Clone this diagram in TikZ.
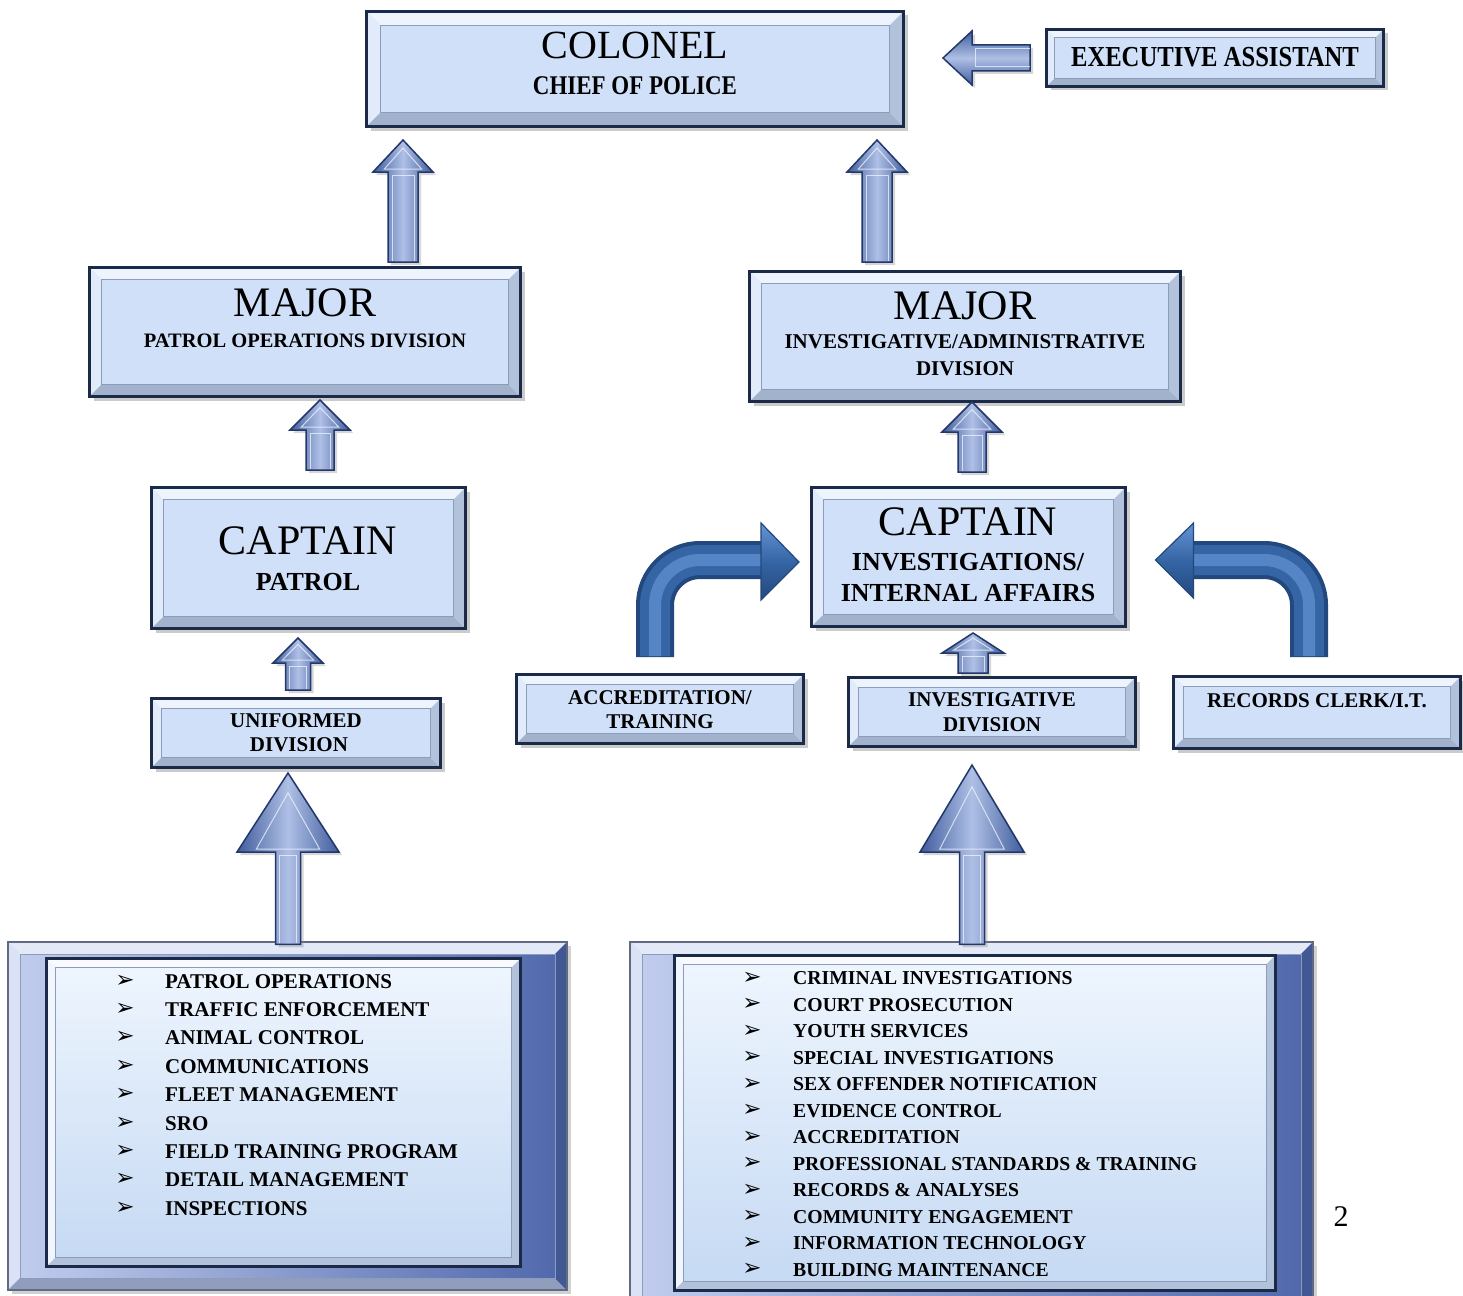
\documentclass[tikz,border=0pt]{standalone}
\usepackage{fontspec}
\setmainfont{Liberation Serif}
\newfontfamily\condserif[FakeStretch=0.85]{Liberation Serif}
\newfontfamily\dejavu{DejaVu Sans}
\usetikzlibrary{calc,shadows}
\definecolor{navy}{HTML}{1C2A4A}
\definecolor{boxfill}{HTML}{D0E0F8}
\definecolor{bevtop}{HTML}{EEF4FD}
\definecolor{bevleft}{HTML}{E2EBF9}
\definecolor{bevbot}{HTML}{A2B2CC}
\definecolor{bevright}{HTML}{B3C2DB}
\definecolor{bevline}{HTML}{8C9DBB}
\definecolor{arrdark}{HTML}{3F5C9C}
\definecolor{arrlight}{HTML}{AFC0E6}
\definecolor{arredge}{HTML}{22386A}
\definecolor{bandA}{HTML}{23487E}
\definecolor{bandB}{HTML}{3565A5}
\definecolor{bandC}{HTML}{6494D2}
\definecolor{frameL}{HTML}{C3CEEE}
\definecolor{frameR}{HTML}{4F67AB}
\definecolor{listtop}{HTML}{EFF6FE}
\definecolor{listbot}{HTML}{C5D9F3}
\newcommand\setfs[1]{\fontsize{#1}{#1}\selectfont}
\newcommand\bevelfaces[5]{%
  \coordinate (pA) at (path picture bounding box.north west);
  \coordinate (pB) at (path picture bounding box.north east);
  \coordinate (pC) at (path picture bounding box.south east);
  \coordinate (pD) at (path picture bounding box.south west);
  \fill[#2] (pA) -- (pB) -- ($(pB)+(-#1,#1)$) -- ($(pA)+(#1,#1)$) -- cycle;
  \fill[#3] (pA) -- ($(pA)+(#1,#1)$) -- ($(pD)+(#1,-#1)$) -- (pD) -- cycle;
  \fill[#4] (pD) -- (pC) -- ($(pC)+(-#1,-#1)$) -- ($(pD)+(#1,-#1)$) -- cycle;
  \fill[#5] (pB) -- (pC) -- ($(pC)+(-#1,-#1)$) -- ($(pB)+(-#1,#1)$) -- cycle;
  \draw[bevline, line width=0.8pt] ($(pA)+(#1,#1)$) rectangle ($(pC)+(-#1,-#1)$);
}
\newcommand\fatup[8]{%
  \coordinate (fuB) at ($(#1,0 |- #2.north)+(0,#4)$);
  \coordinate (fuT) at ($(#1,0 |- #3.south)+(0,#5)$);
  \path[fatarrow] ($(fuB)+(-#7,0)$) -- ($(fuT)+(-#7,#8)$) -- ($(fuT)+(-#6,#8)$) -- (fuT)
     -- ($(fuT)+(#6,#8)$) -- ($(fuT)+(#7,#8)$) -- ($(fuB)+(#7,0)$) -- cycle;
  \draw[fathl] ($(fuB)+({-#7+4},-1)$) -- ($(fuT)+({-#7+4},{#8+3})$)
     -- ($(fuT)+({#7-4},{#8+3})$) -- ($(fuB)+({#7-4},-1)$);
  \draw[fathl] ($(fuT)+(0,{#8*0.25})$) -- ($(fuT)+({-#6*0.62},{#8-3})$)
     -- ($(fuT)+({#6*0.62},{#8-3})$) -- cycle;
}
\tikzset{
  bbox/.style={rectangle, draw=navy, line width=3pt, fill=boxfill, inner sep=0pt,
    drop shadow={shadow xshift=4pt, shadow yshift=-4pt, fill=black!45, opacity=0.45},
    path picture={\bevelfaces{#1}{bevtop}{bevleft}{bevbot}{bevright}}},
  framebox/.style={rectangle, draw=navy!70, line width=1.5pt, left color=frameL, right color=frameR,
    inner sep=0pt,
    drop shadow={shadow xshift=4pt, shadow yshift=-4pt, fill=black!45, opacity=0.4},
    path picture={\bevelfaces{12}{white!55!frameL}{white!40!frameL}{frameL!70!navy}{frameR!75!navy}}},
  listbox/.style={rectangle, draw=navy, line width=3pt, top color=listtop, bottom color=listbot,
    inner sep=0pt,
    path picture={\bevelfaces{9}{white!85!boxfill}{white!70!boxfill}{bevright}{bevright}}},
  fatarrow/.style={draw=arredge, line width=1.5pt, left color=arrdark, right color=arrdark,
    middle color=arrlight,
    drop shadow={shadow xshift=3pt, shadow yshift=-3pt, fill=black!45, opacity=0.35}},
  fathl/.style={draw=white!75!arrlight, line width=1pt, opacity=0.8},
  hfatarrow/.style={draw=arredge, line width=1.5pt, top color=arrdark, bottom color=arrdark,
    middle color=arrlight,
    drop shadow={shadow xshift=3pt, shadow yshift=-3pt, fill=black!45, opacity=0.35}},
  bandone/.style={draw=bandA, line width=38pt, rounded corners=45pt},
  bandtwo/.style={draw=bandB, line width=30pt, rounded corners=45pt},
  bandthree/.style={draw=bandC, line width=12pt, rounded corners=45pt, opacity=0.7},
  bandhead/.style={draw=bandA, line width=1.2pt, top color=bandC, bottom color=bandA,
    middle color=bandB},
  txt/.style={inner sep=0pt, text=black},
  big/.style={txt, font=\setfs{42}},
  sub/.style={txt, font=\setfs{#1}\bfseries},
  bul/.style={inner sep=0pt, anchor=center, font=\dejavu\setfs{23}},
  item/.style={inner sep=0pt, anchor=base west, font=\setfs{#1}\bfseries},
}
\begin{document}
\begin{tikzpicture}[x=1pt, y=-1pt]
\useasboundingbox (0,0) rectangle (1463,1295);
\clip (0,0) rectangle (1463,1295);
\fill[white] (0,0) rectangle (1463,1295);

% list frames
\node[framebox, minimum width=559, minimum height=348] (lframe) at (287.5,1116) {};
\node[listbox, minimum width=474, minimum height=308] (llist) at (283.5,1112.5) {};
\node[framebox, minimum width=683, minimum height=380] (rframe) at (971.5,1132) {};
\node[listbox, minimum width=601, minimum height=335] (rlist) at (975,1122.5) {};

% boxes
\node[bbox=14, minimum width=537, minimum height=115] (col) at (635,69) {};
\node[bbox=8, minimum width=337, minimum height=57] (exec) at (1215,58) {};
\node[bbox=12, minimum width=431, minimum height=129] (maj1) at (305,332) {};
\node[bbox=12, minimum width=431, minimum height=130] (maj2) at (965,336.5) {};
\node[bbox=12, minimum width=314, minimum height=141] (cap1) at (308.5,558) {};
\node[bbox=12, minimum width=314, minimum height=139] (cap2) at (968.5,557) {};
\node[bbox=10, minimum width=289, minimum height=69] (uni) at (296,733) {};
\node[bbox=10, minimum width=287, minimum height=69] (acc) at (660,709) {};
\node[bbox=10, minimum width=287, minimum height=69] (inv) at (992,712) {};
\node[bbox=10, minimum width=287, minimum height=72] (rec) at (1317,712.5) {};

% texts
\node[txt, font=\setfs{40}] (colT1) at (635,45) {COLONEL};
\node[txt, font=\condserif\setfs{27}\bfseries] (colT2) at (635,86) {CHIEF OF POLICE};
\node[txt, font=\condserif\setfs{29}\bfseries] (exT) at (1215,57) {EXECUTIVE ASSISTANT};
\node[big] (m1T1) at (305,303) {MAJOR};
\node[sub=20.5] (m1T2) at (305,341) {PATROL OPERATIONS DIVISION};
\node[big] (m2T1) at (965,306) {MAJOR};
\node[sub=21] (m2T2) at (965,342) {INVESTIGATIVE/ADMINISTRATIVE};
\node[sub=21] (m2T3) at (965,369) {DIVISION};
\node[big] (c1T1) at (308,541) {CAPTAIN};
\node[sub=26] (c1T2) at (308,582) {PATROL};
\node[big] (c2T1) at (968,522) {CAPTAIN};
\node[sub=26] (c2T2) at (968,562) {INVESTIGATIONS/};
\node[sub=26] (c2T3) at (968,593) {INTERNAL AFFAIRS};
\node[sub=21] (uT1) at (296,721) {UNIFORMED};
\node[sub=21] (uT2) at (299,745) {DIVISION};
\node[sub=21] (aT1) at (660,698) {ACCREDITATION/};
\node[sub=21] (aT2) at (660,722) {TRAINING};
\node[sub=21] (iT1) at (992,700) {INVESTIGATIVE};
\node[sub=21] (iT2) at (992,725) {DIVISION};
\node[sub=21] (rT) at (1317,701) {RECORDS CLERK/I.T.};
\node[txt, font=\setfs{30}] (pg) at (1341,1217) {2};

% lists
\foreach \t [count=\i] in {PATROL OPERATIONS, TRAFFIC ENFORCEMENT, ANIMAL CONTROL,
  COMMUNICATIONS, FLEET MANAGEMENT, SRO, FIELD TRAINING PROGRAM, DETAIL MANAGEMENT,
  INSPECTIONS} {
  \node[bul] (lb\i) at (125,{981+28.4*(\i-1)}) {➢};
  \node[item=21] (li\i) at (165,{988+28.4*(\i-1)}) {\t};
}
\foreach \t [count=\i] in {CRIMINAL INVESTIGATIONS, COURT PROSECUTION, YOUTH SERVICES,
  SPECIAL INVESTIGATIONS, SEX OFFENDER NOTIFICATION, EVIDENCE CONTROL, ACCREDITATION,
  {PROFESSIONAL STANDARDS \& TRAINING}, {RECORDS \& ANALYSES}, COMMUNITY ENGAGEMENT,
  INFORMATION TECHNOLOGY, BUILDING MAINTENANCE} {
  \node[bul] (rb\i) at (752,{978+26.5*(\i-1)}) {➢};
  \node[item=19.7] (ri\i) at (793,{984.5+26.5*(\i-1)}) {\t};
}

% block arrows
\fatup{403}{maj1}{col}{-4}{12}{30}{15}{32}
\fatup{877}{maj2}{col}{-8}{12}{30}{15}{32}
\fatup{320}{cap1}{maj1}{-16}{2}{30}{14}{30}
\fatup{972}{cap2}{maj2}{-14}{-1}{30}{14}{30}
\fatup{298}{uni}{cap1}{-7}{8}{25}{12.5}{25}
\fatup{973}{inv}{cap2}{-3}{5}{31}{15}{20}
\fatup{288}{lframe}{uni}{3}{4}{51}{12.5}{79}
\fatup{972}{rframe}{inv}{3}{17}{52}{12.5}{87}

% executive arrow
\coordinate (eB) at ($(exec.west)+(-15,0)$);
\coordinate (eT) at ($(col.east |- exec.west)+(38,0)$);
\path[hfatarrow] ($(eB)+(0,-13)$) -- ($(eT)+(29,-13)$) -- ($(eT)+(29,-27)$) -- (eT)
  -- ($(eT)+(29,27)$) -- ($(eT)+(29,13)$) -- ($(eB)+(0,13)$) -- cycle;
\draw[fathl] ($(eB)+(0,-9)$) -- ($(eT)+(32,-9)$) -- ($(eT)+(32,9)$) -- ($(eB)+(0,9)$);

% curved arrows
\coordinate (S1) at ($(acc.north)+(-5,-16)$);
\coordinate (T1) at ($(cap2.west)+(-11,5)$);
\coordinate (H1) at ($(T1)+(-36,-2)$);
\draw[bandone] (S1) |- (H1);
\draw[bandtwo] ($(S1)+(0,-1)$) |- (H1);
\draw[bandthree] ($(S1)+(0,-1)$) |- (H1);
\path[bandhead] ($(T1)+(-38,-39)$) -- (T1) -- ($(T1)+(-38,38)$) -- cycle;

\coordinate (S2) at ($(rec.north)+(-8,-18)$);
\coordinate (T2) at ($(cap2.east)+(28.5,3)$);
\coordinate (H2) at ($(T2)+(35,0)$);
\draw[bandone] (S2) |- (H2);
\draw[bandtwo] ($(S2)+(0,-1)$) |- (H2);
\draw[bandthree] ($(S2)+(0,-1)$) |- (H2);
\path[bandhead] ($(T2)+(38,-37)$) -- (T2) -- ($(T2)+(38,38)$) -- cycle;
\end{tikzpicture}
\end{document}
